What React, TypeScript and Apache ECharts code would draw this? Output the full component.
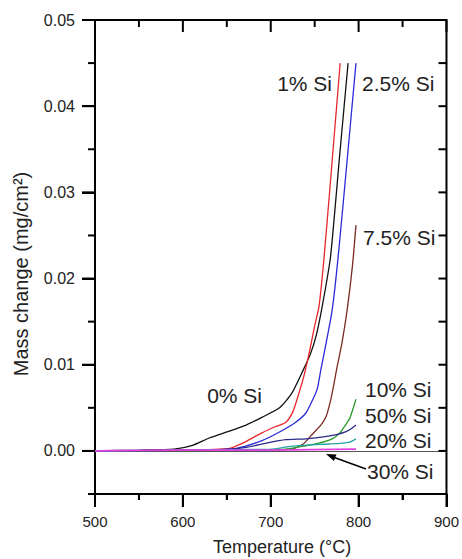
import React, { useEffect, useRef } from "react";
import * as echarts from "echarts";

// ---- data (temperature °C, mass change mg/cm²) ----
const si0 = [
  [500, 0], [550, 0.0001], [590, 0.0002], [610, 0.0006], [630, 0.0015], [650, 0.0022],
  [672, 0.003], [690, 0.0039], [710, 0.005], [724, 0.0067], [737, 0.0094], [745, 0.0112],
  [752, 0.0135], [759, 0.017], [768, 0.0225], [778, 0.0338], [788, 0.045],
];
const si1 = [
  [500, 0], [600, 0.0001], [653, 0.0003], [670, 0.001], [690, 0.0021], [705, 0.0028],
  [717, 0.0033], [725, 0.0045], [730, 0.006], [738, 0.0088], [744, 0.0115], [750, 0.0145],
  [755, 0.0168], [761, 0.0228], [770, 0.0338], [779, 0.045],
];
const si25 = [
  [500, 0], [620, 0.0001], [661, 0.0003], [690, 0.0012], [710, 0.0022], [728, 0.0033],
  [740, 0.0044], [748, 0.006], [753, 0.0072], [757, 0.0094], [763, 0.0125], [770, 0.0164],
  [777, 0.0228], [787, 0.0338], [797, 0.045],
];
const si75 = [
  [500, 0], [700, 0.0001], [724, 0.0002], [737, 0.0008], [747, 0.0019], [757, 0.003],
  [763, 0.004], [768, 0.0058], [772, 0.0078], [775, 0.0095], [781, 0.0125], [787, 0.0164],
  [793, 0.0215], [797, 0.0262],
];
const si10 = [
  [500, 0], [700, 0.0001], [724, 0.0003], [740, 0.0006], [755, 0.0009], [770, 0.0014],
  [778, 0.002], [785, 0.003], [790, 0.0038], [797, 0.006],
];
const si50 = [
  [500, 0], [640, 0.0001], [672, 0.0004], [695, 0.0009], [717, 0.0013], [740, 0.0014],
  [758, 0.0016], [775, 0.0019], [785, 0.0022], [792, 0.0026], [797, 0.003],
];
const si20 = [
  [500, 0], [700, 0.0002], [721, 0.0005], [745, 0.0007], [766, 0.0008], [789, 0.001], [797, 0.0014],
];
const si30 = [[500, 0], [600, 0.0001], [700, 0.0001], [797, 0.0002]];

const seriesNames = ["0% Si", "1% Si", "2.5% Si", "7.5% Si", "10% Si", "50% Si", "20% Si", "30% Si"];
const seriesData = [si0, si1, si25, si75, si10, si50, si20, si30];

const xMin = 500;
const xMax = 900;
const xStep = 100;
const yMin = -0.005;
const yMax = 0.05;
const xMajorTicks = [500, 600, 700, 800, 900];
const xMinorTicks = [550, 650, 750, 850];
const yMajorTicks = [0, 0.01, 0.02, 0.03, 0.04, 0.05];
const yMinorTicks = [-0.005, 0.005, 0.015, 0.025, 0.035, 0.045];

const xTitle = "Temperature (°C)";
const yTitle = "Mass change (mg/cm²)";

// ---- styles ----
const colors = ["#111111", "#e8262a", "#2a2ad8", "#7a2a22", "#2a9a2a", "#2a2a8a", "#25a3a3", "#e040e0"];
const FONT = "'Liberation Sans', Arial, sans-serif";
const TXT = "#222";

// tick marks drawn through the axes' own scales (api.coord)
function tickSeries(data: number[][], dx: number, dy: number) {
  return {
    type: "custom",
    silent: true,
    clip: false,
    z: 10,
    xAxisIndex: 0,
    yAxisIndex: 0,
    data,
    renderItem: (_params: any, api: any) => {
      try {
        const p = api.coord([api.value(0), api.value(1)]);
        return {
          type: "line",
          shape: { x1: p[0], y1: p[1], x2: p[0] + dx, y2: p[1] + dy },
          style: { stroke: "#000", lineWidth: 2 },
        };
      } catch (e) {
        return null;
      }
    },
  };
}

export default function App() {
  const ref = useRef<HTMLDivElement>(null);
  useEffect(() => {
    if (!ref.current) return;
    document.body.style.margin = "0";
    const chart = echarts.init(ref.current, undefined, { renderer: "svg" });
    const ls = () => ({ color: "#000", width: 2 });
    const lines = seriesData.map((d, i) => ({
      name: seriesNames[i],
      type: "line",
      xAxisIndex: 0,
      yAxisIndex: 0,
      data: d,
      showSymbol: false,
      symbol: "none",
      smooth: 0.2,
      lineStyle: { color: colors[i], width: i === 7 ? 1.8 : 1.3 },
      z: 3 + i,
      ...(i === 0
        ? {
            markLine: {
              silent: true,
              symbol: "none",
              label: { show: false },
              lineStyle: { color: "#555", width: 1, type: "solid" },
              data: [{ yAxis: 0 }],
            },
          }
        : {}),
    }));
    const ticks = [
      tickSeries(xMajorTicks.map((v) => [v, yMin]), 0, 13),
      tickSeries(xMinorTicks.map((v) => [v, yMin]), 0, 6),
      tickSeries(xMajorTicks.map((v) => [v, yMax]), 0, 12),
      tickSeries(xMinorTicks.map((v) => [v, yMax]), 0, 7),
      tickSeries(yMajorTicks.map((v) => [xMin, v]), -13, 0),
      tickSeries(yMinorTicks.map((v) => [xMin, v]), -7, 0),
      tickSeries([...yMajorTicks, ...yMinorTicks].map((v) => [xMax, v]), -8, 0),
    ];
    const option: any = {
      animation: false,
      grid: {
        left: 95, right: 14, top: 20, bottom: 65,
        show: true, borderColor: "#000", borderWidth: 2, backgroundColor: "transparent",
      },
      xAxis: [
        {
          type: "value", min: xMin, max: xMax, interval: xStep, position: "bottom",
          axisLine: { onZero: false, lineStyle: ls() },
          axisTick: { show: true, length: 13, lineStyle: ls() },
          minorTick: { show: true, splitNumber: 2, length: 6, lineStyle: ls() },
          axisLabel: { margin: 20, fontSize: 15, color: TXT, fontFamily: FONT },
          splitLine: { show: false },
        },
      ],
      yAxis: [
        {
          type: "value", min: yMin, max: yMax, position: "left",
          axisLine: { onZero: false, lineStyle: ls() },
          axisTick: { show: true, length: 13, lineStyle: ls(), customValues: yMajorTicks },
          axisLabel: {
            margin: 20, fontSize: 16, color: TXT, fontFamily: FONT,
            customValues: yMajorTicks,
            formatter: (v: number) => v.toFixed(2),
          },
          splitLine: { show: false },
        },
      ],
      series: [...lines, ...ticks],
      graphic: [
        {
          type: "text", x: 21, y: 274, rotation: Math.PI / 2,
          style: { text: yTitle, fontSize: 20, fill: TXT, fontFamily: FONT, align: "center", verticalAlign: "middle" },
        },
        {
          type: "text", x: 282, y: 547,
          style: { text: xTitle, fontSize: 18, fill: TXT, fontFamily: FONT, align: "center", verticalAlign: "middle" },
        },
        ...[
          { t: "1% Si", x: 332, y: 83, a: "right" },
          { t: "2.5% Si", x: 362, y: 83, a: "left" },
          { t: "7.5% Si", x: 363, y: 237, a: "left" },
          { t: "0% Si", x: 262, y: 395, a: "right" },
          { t: "10% Si", x: 365, y: 389, a: "left" },
          { t: "50% Si", x: 365, y: 415, a: "left" },
          { t: "20% Si", x: 365, y: 440, a: "left" },
          { t: "30% Si", x: 367, y: 471, a: "left" },
        ].map((l) => ({
          type: "text", x: l.x, y: l.y, z: 20,
          style: { text: l.t, fontSize: 21, fill: TXT, fontFamily: FONT, align: l.a, verticalAlign: "middle" },
        })),
        {
          type: "line", z: 20,
          shape: { x1: 366, y1: 469, x2: 333, y2: 457 },
          style: { stroke: "#000", lineWidth: 1.5 },
        },
        {
          type: "polygon", z: 20,
          shape: { points: [[326, 454], [336.5, 454.6], [333.9, 461.0]] },
          style: { fill: "#000" },
        },
      ],
    };
    chart.setOption(option);
    return () => chart.dispose();
  }, []);
  return <div ref={ref} style={{ width: 462, height: 559, background: "#fff" }} />;
}
